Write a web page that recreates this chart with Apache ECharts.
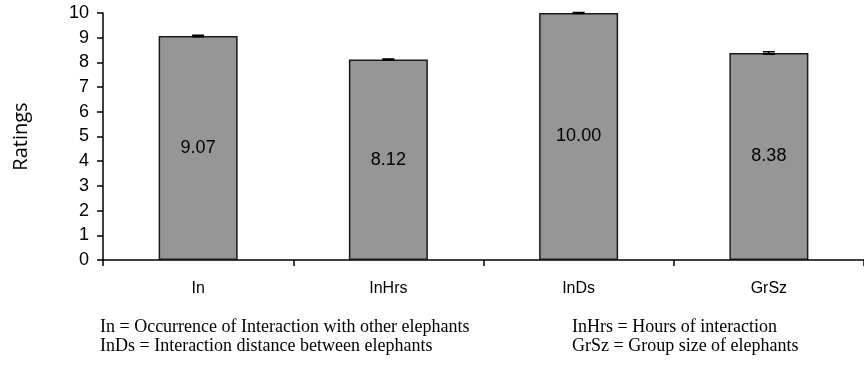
<!DOCTYPE html>
<html>
<head>
<meta charset="utf-8">
<script src="https://cdn.jsdelivr.net/npm/echarts@6/dist/echarts.min.js"></script>
<style>html,body{margin:0;padding:0;background:#fff;}#c{width:864px;height:380px;}</style>
</head>
<body>
<div id="c"></div>
<script>
var categories = ['In', 'InHrs', 'InDs', 'GrSz'];
var ratings = [9.07, 8.12, 10.00, 8.38];
var errors = [0.03, 0.02, 0.02, 0.05];
var yTicks = [0, 1, 2, 3, 4, 5, 6, 7, 8, 9, 10];
var notesLeft = ['In = Occurrence of Interaction with other elephants', 'InDs = Interaction distance between elephants'];
var notesRight = ['InHrs = Hours of interaction', 'GrSz = Group size of elephants'];

var chart = echarts.init(document.getElementById('c'), null, {renderer: 'canvas'});
var errData = ratings.map(function (v, i) { return [i, v, errors[i]]; });
var serif = '18px "Liberation Serif", "Times New Roman", serif';

chart.setOption({
  animation: false,
  grid: {left: 103, top: 13, width: 766, height: 247, containLabel: false},
  xAxis: {
    type: 'category',
    data: categories,
    axisLine: {lineStyle: {color: '#000', width: 1.5}},
    axisTick: {show: true, length: 6, lineStyle: {color: '#000', width: 1.5}},
    axisLabel: {color: '#000', fontFamily: 'Liberation Sans, Arial', fontSize: 16, margin: 21}
  },
  yAxis: {
    type: 'value',
    min: yTicks[0],
    max: yTicks[yTicks.length - 1],
    interval: 1,
    name: 'Ratings',
    nameLocation: 'middle',
    nameGap: 72,
    nameTextStyle: {color: '#000', fontFamily: 'Open Sans', fontSize: 20},
    axisLine: {show: true, lineStyle: {color: '#000', width: 1.5}},
    axisTick: {show: true, length: 6, lineStyle: {color: '#000', width: 1.5}},
    splitLine: {show: false},
    axisLabel: {color: '#000', fontFamily: 'Liberation Sans, Arial', fontSize: 18, margin: 14}
  },
  series: [
    {
      type: 'bar',
      data: ratings,
      barWidth: 79,
      itemStyle: {color: '#969696', borderColor: '#1a1a1a', borderWidth: 1.5},
      label: {
        show: true,
        position: 'inside',
        color: '#000',
        fontFamily: 'Liberation Sans, Arial',
        fontSize: 18,
        formatter: function (p) { return p.value.toFixed(2); }
      },
      z: 2
    },
    {
      type: 'custom',
      data: errData,
      z: 5,
      renderItem: function (params, api) {
        var i = api.value(0), v = api.value(1), e = api.value(2);
        var hi = api.coord([i, v + e]);
        var lo = api.coord([i, v - e]);
        var hw = 6;
        return {
          type: 'group',
          children: [
            {type: 'line', shape: {x1: hi[0], y1: hi[1], x2: lo[0], y2: lo[1]}, style: {stroke: '#000', lineWidth: 1.5}},
            {type: 'line', shape: {x1: hi[0] - hw, y1: hi[1], x2: hi[0] + hw, y2: hi[1]}, style: {stroke: '#000', lineWidth: 1.5}},
            {type: 'line', shape: {x1: lo[0] - hw, y1: lo[1], x2: lo[0] + hw, y2: lo[1]}, style: {stroke: '#000', lineWidth: 1.5}}
          ]
        };
      }
    }
  ],
  graphic: [
    {type: 'text', left: 100, top: 318, style: {text: notesLeft[0], fill: '#000', font: serif}},
    {type: 'text', left: 100, top: 337, style: {text: notesLeft[1], fill: '#000', font: serif}},
    {type: 'text', left: 572, top: 318, style: {text: notesRight[0], fill: '#000', font: serif}},
    {type: 'text', left: 572, top: 337, style: {text: notesRight[1], fill: '#000', font: serif}}
  ]
});
</script>
</body>
</html>
